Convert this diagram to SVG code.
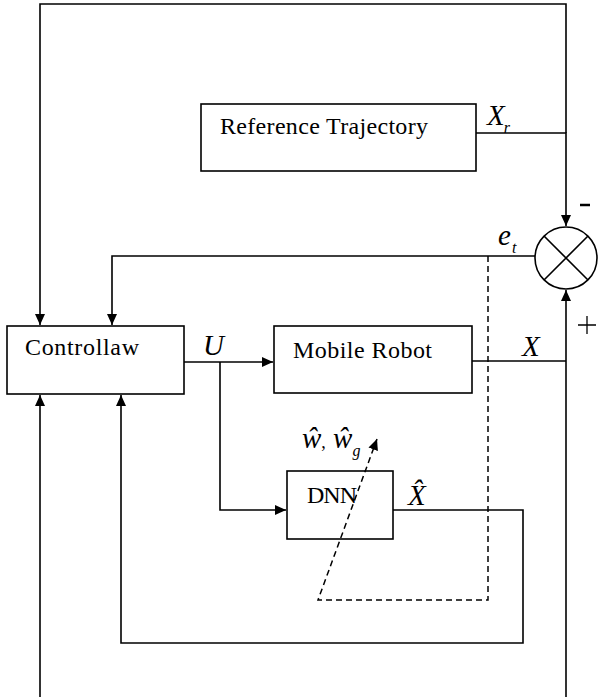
<svg xmlns="http://www.w3.org/2000/svg" width="598" height="697" viewBox="0 0 598 697">
<style>
.box{fill:#fff;stroke:#000;stroke-width:1.6}
.ln{fill:none;stroke:#000;stroke-width:1.6}
.dash{fill:none;stroke:#000;stroke-width:1.5;stroke-dasharray:6 4}
.t{font-family:'Liberation Serif','Times New Roman',serif;font-size:24px;fill:#000}
.m{font-family:'Liberation Serif','Times New Roman',serif;font-style:italic;font-size:29px;fill:#000}
.s{font-size:16px}
</style>
<defs>
<marker id="ah" markerWidth="12" markerHeight="12" refX="11" refY="6" orient="auto" markerUnits="userSpaceOnUse">
<path d="M0,1 L11,6 L0,11 Z" fill="#000"/>
</marker>
</defs>
<rect width="598" height="697" fill="#fff"/>
<g id="reference">
<rect class="box" x="201" y="104" width="275" height="67"/>
<text class="t" x="220" y="134" textLength="208" lengthAdjust="spacing">Reference Trajectory</text>
</g>
<g id="controllaw">
<rect class="box" x="7" y="326" width="177" height="68"/>
<text class="t" x="25" y="355" textLength="114" lengthAdjust="spacing">Controllaw</text>
</g>
<g id="robot">
<rect class="box" x="274" y="326" width="198" height="67"/>
<text class="t" x="293" y="358" textLength="139" lengthAdjust="spacing">Mobile Robot</text>
</g>
<g id="dnn">
<rect class="box" x="287" y="471" width="106" height="68"/>
<text class="t" x="307" y="503" textLength="50" lengthAdjust="spacing">DNN</text>
</g>
<g id="sum">
<circle cx="566" cy="258" r="31" fill="#fff" stroke="#000" stroke-width="1.6"/>
<path class="ln" d="M544,236 L588,280 M588,236 L544,280" stroke-width="1.3"/>
<path d="M580,205 L590,205" stroke="#000" stroke-width="2.5"/>
<path d="M578,325 L596,325 M587,316 L587,334" stroke="#000" stroke-width="1.3"/>
</g>
<g id="connectors">
<path class="ln" d="M566,133 L566,4 L40,4 L40,325" marker-end="url(#ah)"/>
<path class="ln" d="M476,133 L566,133 L566,226" marker-end="url(#ah)"/>
<path class="ln" d="M535,256 L112,256 L112,325" marker-end="url(#ah)"/>
<path class="ln" d="M184,362 L273,362" marker-end="url(#ah)"/>
<path class="ln" d="M220,362 L220,510 L286,510" marker-end="url(#ah)"/>
<path class="ln" d="M472,361 L566,361"/>
<path class="ln" d="M566,697 L566,290" marker-end="url(#ah)"/>
<path class="ln" d="M393,510 L523,510 L523,643 L121,643 L121,395" marker-end="url(#ah)"/>
<path class="ln" d="M40,697 L40,395" marker-end="url(#ah)"/>
<path class="dash" d="M488,256 L488,600 L318,600 L377,439" marker-end="url(#ah)"/>
</g>
<g id="labels">
<text class="m" x="487" y="125">X<tspan class="s" dx="-1" dy="8">r</tspan></text>
<text class="m" x="498" y="245">e<tspan class="s" dx="1" dy="8">t</tspan></text>
<text class="m" x="203" y="355">U</text>
<text class="m" x="522" y="356">X</text>
<text class="m" x="408" y="505">X̂</text>
<text class="m" x="302" y="448" font-size="25">ŵ<tspan font-style="normal" font-size="18">,</tspan> ŵ<tspan class="s" dy="8">g</tspan></text>
</g>
</svg>
